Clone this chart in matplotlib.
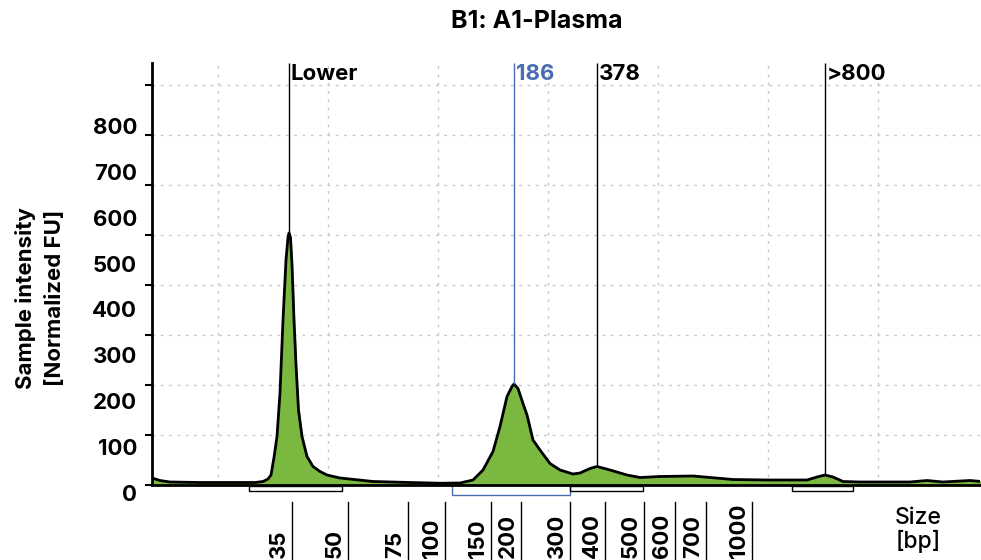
import matplotlib.pyplot as plt
import matplotlib.transforms as mtransforms
from matplotlib.patches import Rectangle
import numpy as np

plt.rcParams['font.family'] = ['Inter', 'DejaVu Sans']

# electropherogram trace (position along run, normalized FU)
run_pos = [0, 8, 18, 48, 78, 103, 111, 116, 119, 122, 125, 128, 131, 134, 136, 137,
           138.5, 140, 142, 144, 146.5, 150, 155, 161, 168, 175, 188, 221, 258, 288,
           308, 321, 331, 341, 348, 355, 360, 362, 366, 371, 375, 381, 388, 398, 408,
           421, 428, 438, 445, 458, 475, 488, 508, 541, 558, 581, 615, 655, 665, 673,
           681, 691, 708, 758, 775, 791, 818, 829]
intensity = [14, 9, 6, 5, 5, 5, 7, 12, 20, 55, 97, 184, 330, 450, 495, 504,
             495, 440, 330, 240, 150, 97, 57, 37, 27, 20, 14, 7, 5, 3.5,
             4, 10, 30, 67, 117, 177, 197, 202, 193, 163, 140, 90, 70, 43, 30,
             22, 24, 33, 37, 30, 20, 15, 17, 18, 15, 11, 10, 10, 16, 20,
             16, 7, 6, 6, 9, 6, 9, 7]

# ladder sizes on the bottom scale
size_labels = ["35", "50", "75", "100", "150", "200", "300", "400", "500", "600", "700", "1000"]
size_pos = [140, 196, 256, 293, 339, 369, 418, 453, 492, 523, 554, 600]

# peak markers
marker_labels = ["Lower", "186", "378", ">800"]
marker_pos = [137, 362, 445, 673]
marker_height = [504, 202, 37, 20]
marker_colors = ["black", "#4a6cb3", "black", "black"]

# region brackets under the axis
region_start = [97, 300, 418, 640]
region_end = [190, 418, 491, 701]
region_colors = ["black", "#4a6cb3", "black", "black"]

y_ticks = [0, 100, 200, 300, 400, 500, 600, 700, 800]
grid_x = [66, 176, 286, 396, 506, 616, 726]

fig = plt.figure(figsize=(9.81, 5.6), dpi=100)
ax = fig.add_axes([152 / 981, 1 - 485 / 560, 828 / 981, 422 / 560])
ax.set_xlim(0, 828)
ax.set_ylim(0, 844)

# grid
for gx in grid_x:
    ax.axvline(gx, color="#c8c8c8", lw=1, ls=(0, (2, 4)), zorder=0)
for gy in y_ticks[1:]:
    ax.axhline(gy, color="#c8c8c8", lw=1, ls=(0, (2, 4)), zorder=0)

ax.fill_between(run_pos, intensity, 0, color="#7ab840", zorder=2)
ax.plot(run_pos, intensity, color="black", lw=2, zorder=3)

# markers
for lab, x, h, c in zip(marker_labels, marker_pos, marker_height, marker_colors):
    ax.vlines(x, h, 844, color=c, lw=1, zorder=4)
    ax.text(x + 2, 822, lab, color=c, fontsize=16, fontweight="bold",
            ha="left", va="center")

# spines and ticks
for s in ["top", "right"]:
    ax.spines[s].set_visible(False)
ax.spines["left"].set_linewidth(2)
ax.spines["bottom"].set_linewidth(2)
ax.set_yticks(y_ticks)
ax.set_yticklabels([])
ax.tick_params(axis="y", length=5, width=1.5)
ax.set_xticks([])

# y tick labels (drawn a bit offset like in the original)
ytrans = mtransforms.blended_transform_factory(ax.transAxes, ax.transData)
for v in y_ticks:
    ax.text(-0.018, -20 + 0.918 * v, str(v), transform=ytrans, ha="right", va="center",
            fontsize=16, fontweight="bold", clip_on=False)

# region brackets
xtrans = ax.get_xaxis_transform()
for a, b, c in zip(region_start, region_end, region_colors):
    h = 0.024 if c != "black" else 0.012
    top = 0.0 if c != "black" else -0.003
    ax.add_patch(Rectangle((a, top - h), b - a, h, transform=xtrans, fill=False,
                           edgecolor=c, lw=1, clip_on=False))

# size scale below
for lab, x in zip(size_labels, size_pos):
    ax.plot([x, x], [-0.04, -0.2], transform=xtrans, color="black", lw=1, clip_on=False)
    ax.text(x - 3, -0.173, lab, transform=xtrans, rotation=90, ha="right", va="bottom",
            fontsize=16, fontweight="bold", clip_on=False)

fig.text(918 / 981, 1 - 530 / 560, "Size\n[bp]", ha="center", va="center", fontsize=16.5,
         fontweight="medium", linespacing=1.05)
fig.text(40 / 981, 1 - 298 / 560, "Sample intensity\n[Normalized FU]", rotation=90,
         ha="center", va="center", fontsize=16, fontweight="bold", multialignment="center",
         linespacing=1.6)
fig.text(537 / 981, 1 - 21 / 560, "B1: A1-Plasma", ha="center", va="center",
         fontsize=18, fontweight="bold")

fig.savefig("out.png", dpi=100)
